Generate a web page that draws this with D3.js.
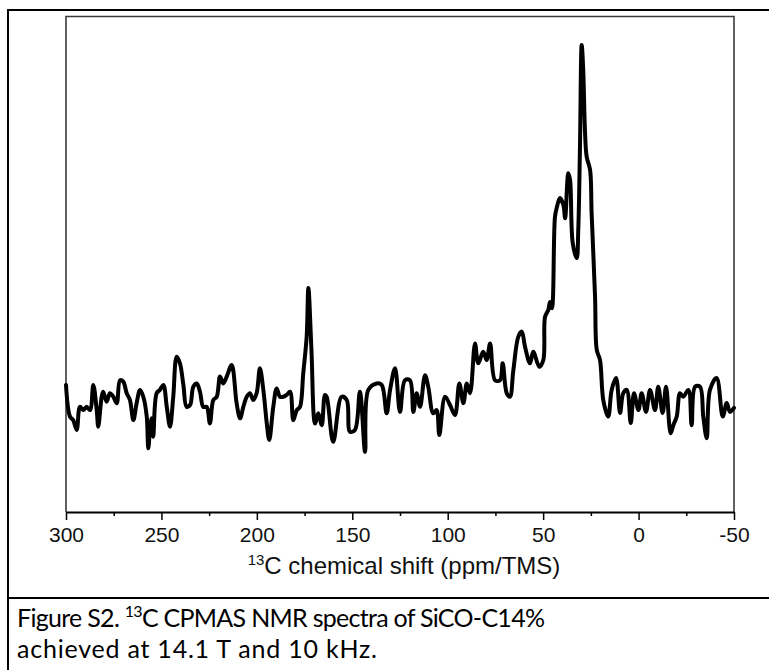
<!DOCTYPE html>
<html>
<head>
<meta charset="utf-8">
<script src="https://cdn.jsdelivr.net/npm/d3@7"></script>
<style>
    body { margin: 0; background: #fff; }
    svg { display: block; }
</style>
</head>
<body>
<div id="chart"></div>
<script>
// 13C CPMAS spectrum, chemical shift (ppm) and intensity (a.u., main peak = 100)
const shiftPpm = [
    300.0, 297.9, 296.2, 294.4, 292.7, 290.9, 289.2, 287.4, 285.7, 283.9,
    283.1, 281.3, 280.5, 278.7, 277.0, 275.2, 273.4, 271.7, 270.0, 268.2,
    266.5, 264.7, 263.0, 261.2, 259.5, 257.7, 256.9, 256.0, 255.1, 254.3,
    252.5, 250.8, 249.0, 247.2, 245.5, 243.8, 242.0, 240.3, 238.5, 236.8,
    235.0, 233.3, 231.5, 229.8, 228.1, 226.3, 224.6, 222.8, 221.0, 219.3,
    217.6, 215.8, 213.2, 210.6, 208.8, 207.1, 205.3, 203.6, 201.9, 200.1,
    198.4, 196.6, 194.8, 193.5, 191.4, 189.6, 187.9, 186.1, 184.4, 182.6,
    180.9, 179.1, 177.4, 175.7, 173.9, 173.0, 171.4, 169.5, 167.8, 166.0,
    164.3, 163.4, 160.0, 155.6, 152.9, 151.2, 148.6, 146.0, 143.3, 141.6,
    137.2, 134.6, 132.0, 130.2, 127.6, 125.0, 122.4, 119.8, 118.0, 116.3,
    114.5, 111.9, 110.2, 107.6, 105.8, 104.4, 101.4, 98.8, 96.2, 93.9,
    91.8, 90.0, 88.3, 85.7, 84.0, 81.4, 79.6, 77.8, 75.2, 72.6,
    71.2, 69.1, 67.4, 65.6, 63.0, 61.2, 59.5, 56.9, 55.2, 52.0,
    49.9, 49.0, 47.3, 46.4, 45.4, 43.8, 42.9, 41.2, 39.4, 38.5,
    36.8, 35.9, 34.5, 32.4, 31.6, 30.7, 29.8, 29.0, 28.1, 27.2,
    25.4, 24.6, 22.8, 21.9, 20.2, 18.5, 15.9, 14.1, 11.8, 9.7,
    8.0, 6.2, 4.1, 2.4, 0.1, -1.6, -3.9, -6.0, -8.6, -10.3,
    -12.6, -14.4, -16.8, -18.2, -20.0, -21.7, -23.4, -26.1, -27.8, -29.6,
    -32.2, -33.9, -35.7, -37.4, -40.9, -44.1, -46.2, -47.9, -50.0
];
const intensity = [
    5.6, -3.2, -4.2, -6.9, -0.5, -1.4, -0.5, -1.4, 5.6, -1.4,
    -6.0, 2.3, 3.7, 0.9, 3.3, 2.3, 0.5, 6.9, 6.5, 3.3,
    1.4, -4.2, 0.5, 4.2, 2.3, -3.2, -12.0, -6.9, -3.7, -8.8,
    3.3, 4.2, 5.6, -0.5, -6.0, 2.3, 13.4, 11.6, 5.6, -0.5,
    0.0, 5.1, 6.0, 3.7, -0.5, -0.5, -5.1, 1.4, 2.3, 7.9,
    6.0, 7.9, 11.1, 0.5, -3.7, -0.5, 2.3, 3.3, 1.4, 3.3,
    10.2, 4.2, -5.1, -9.7, -0.5, 4.6, 2.3, 2.3, 2.8, 3.7,
    -4.2, -1.4, -0.5, 8.8, 19.0, 32.5, 15.3, -5.1, -2.3, -5.6,
    2.8, 2.3, -10.2, 2.3, 1.4, -7.4, -6.9, 3.7, -13.0, 4.2,
    6.0, 5.6, -2.3, 4.2, 10.2, -1.9, 6.9, 6.9, -1.9, 3.3,
    -0.5, 8.3, 5.1, -2.3, -1.4, -8.3, 2.3, 0.0, -2.8, 6.0,
    0.5, 6.0, 3.3, 17.1, 11.6, 14.8, 12.5, 17.1, 6.9, 6.9,
    11.6, 3.3, 2.3, 9.7, 19.0, 20.4, 16.2, 11.6, 14.8, 10.6,
    12.5, 24.5, 26.4, 28.6, 26.9, 52.3, 54.7, 57.5, 55.6, 51.9,
    64.4, 62.5, 45.0, 40.8, 48.6, 71.8, 100.0, 93.1, 76.4, 69.0,
    65.3, 53.3, 30.1, 15.3, 12.5, 1.4, -3.2, 4.2, 7.5, -2.2,
    3.3, 4.2, -5.0, 3.3, -1.4, 3.3, -1.9, 4.2, -1.4, 5.1,
    -2.2, 5.1, -7.8, -5.6, -3.2, 3.3, 2.3, 4.2, -5.6, 5.1,
    5.1, -3.2, -9.2, 4.2, 7.5, -3.2, 0.6, -1.9, -0.8
];

const majorTicks = [300, 250, 200, 150, 100, 50, 0, -50];
const minorTicks = [275, 225, 175, 125, 75, 25, -25];
const xLabel = "C chemical shift (ppm/TMS)";
const captionLines = [
    ["Figure S2. ", "13", "C CPMAS NMR spectra of SiCO-C14%"],
    ["achieved at 14.1 T and 10 kHz."]
];

const width = 769;
const height = 670;
const plot = { left: 66, right: 734, top: 16.5, bottom: 512 };

const svg = d3.select("#chart")
    .append("svg")
    .attr("width", width)
    .attr("height", height);

// outer figure box and caption separator
svg.append("rect")
    .attr("x", 8).attr("y", 10)
    .attr("width", 780).attr("height", 680)
    .attr("fill", "none")
    .attr("stroke", "#000")
    .attr("stroke-width", 2);

svg.append("line")
    .attr("x1", 8).attr("x2", width)
    .attr("y1", 598).attr("y2", 598)
    .attr("stroke", "#000")
    .attr("stroke-width", 2);

// scales: ppm axis reversed, intensity arbitrary
const x = d3.scaleLinear()
    .domain([300, -50])
    .range([plot.left, plot.right]);

const y = d3.scaleLinear()
    .domain([-29.7, 107.9])
    .range([plot.bottom, plot.top]);

// frame (top, left, right)
svg.append("path")
    .attr("d", `M${plot.left},${plot.bottom}V${plot.top}H${plot.right}V${plot.bottom}`)
    .attr("fill", "none")
    .attr("stroke", "#3a3a3a")
    .attr("stroke-width", 1.6);

// bottom axis
const axis = svg.append("g")
    .attr("transform", `translate(0,${plot.bottom})`);

axis.append("g")
    .call(d3.axisBottom(x).tickValues(minorTicks).tickSize(4).tickFormat(""))
    .call(g => g.select(".domain").remove())
    .selectAll("line").attr("stroke", "#000").attr("stroke-width", 1.5);

axis.append("g")
    .call(d3.axisBottom(x)
        .tickValues(majorTicks)
        .tickSize(8)
        .tickSizeOuter(0)
        .tickPadding(7)
        .tickFormat(d => String(d)))  // plain hyphen for negatives
    .call(g => g.select(".domain").attr("stroke", "#000").attr("stroke-width", 1.8))
    .call(g => g.selectAll(".tick line").attr("stroke", "#000").attr("stroke-width", 1.5))
    .call(g => g.selectAll(".tick text")
        .attr("fill", "#111")
        .style("font-family", "'Liberation Sans', Arial, sans-serif")
        .style("font-size", "21px"));

// axis title with superscript
const title = svg.append("text")
    .attr("x", (plot.left + plot.right) / 2 + 4)
    .attr("y", 574)
    .attr("text-anchor", "middle")
    .attr("fill", "#111")
    .style("font-family", "'Liberation Sans', Arial, sans-serif")
    .style("font-size", "24px");
title.append("tspan").attr("dy", "-9").style("font-size", "15px").text("13");
title.append("tspan").attr("dy", "9").text(xLabel);

// spectrum trace
const line = d3.line()
    .x((d, i) => x(shiftPpm[i]))
    .y(d => y(d))
    .curve(d3.curveCatmullRom.alpha(0.5));

svg.append("path")
    .datum(intensity)
    .attr("d", line)
    .attr("fill", "none")
    .attr("stroke", "#000")
    .attr("stroke-width", 4)
    .attr("stroke-linejoin", "round")
    .attr("stroke-linecap", "round");

// caption, spacing fitted to the widths of the original lines
const caption = svg.append("g")
    .style("font-family", "Lato, 'Open Sans', sans-serif")
    .style("font-size", "25px")
    .attr("fill", "#000");

const line1 = caption.append("text")
    .attr("x", 17).attr("y", 627)
    .attr("textLength", 528)
    .attr("lengthAdjust", "spacing");
line1.append("tspan").text(captionLines[0][0]);
line1.append("tspan").attr("dy", "-10").style("font-size", "16px").text(captionLines[0][1]);
line1.append("tspan").attr("dy", "10").text(captionLines[0][2]);

caption.append("text")
    .attr("x", 17).attr("y", 658)
    .attr("textLength", 360)
    .attr("lengthAdjust", "spacing")
    .text(captionLines[1][0]);
</script>
</body>
</html>
